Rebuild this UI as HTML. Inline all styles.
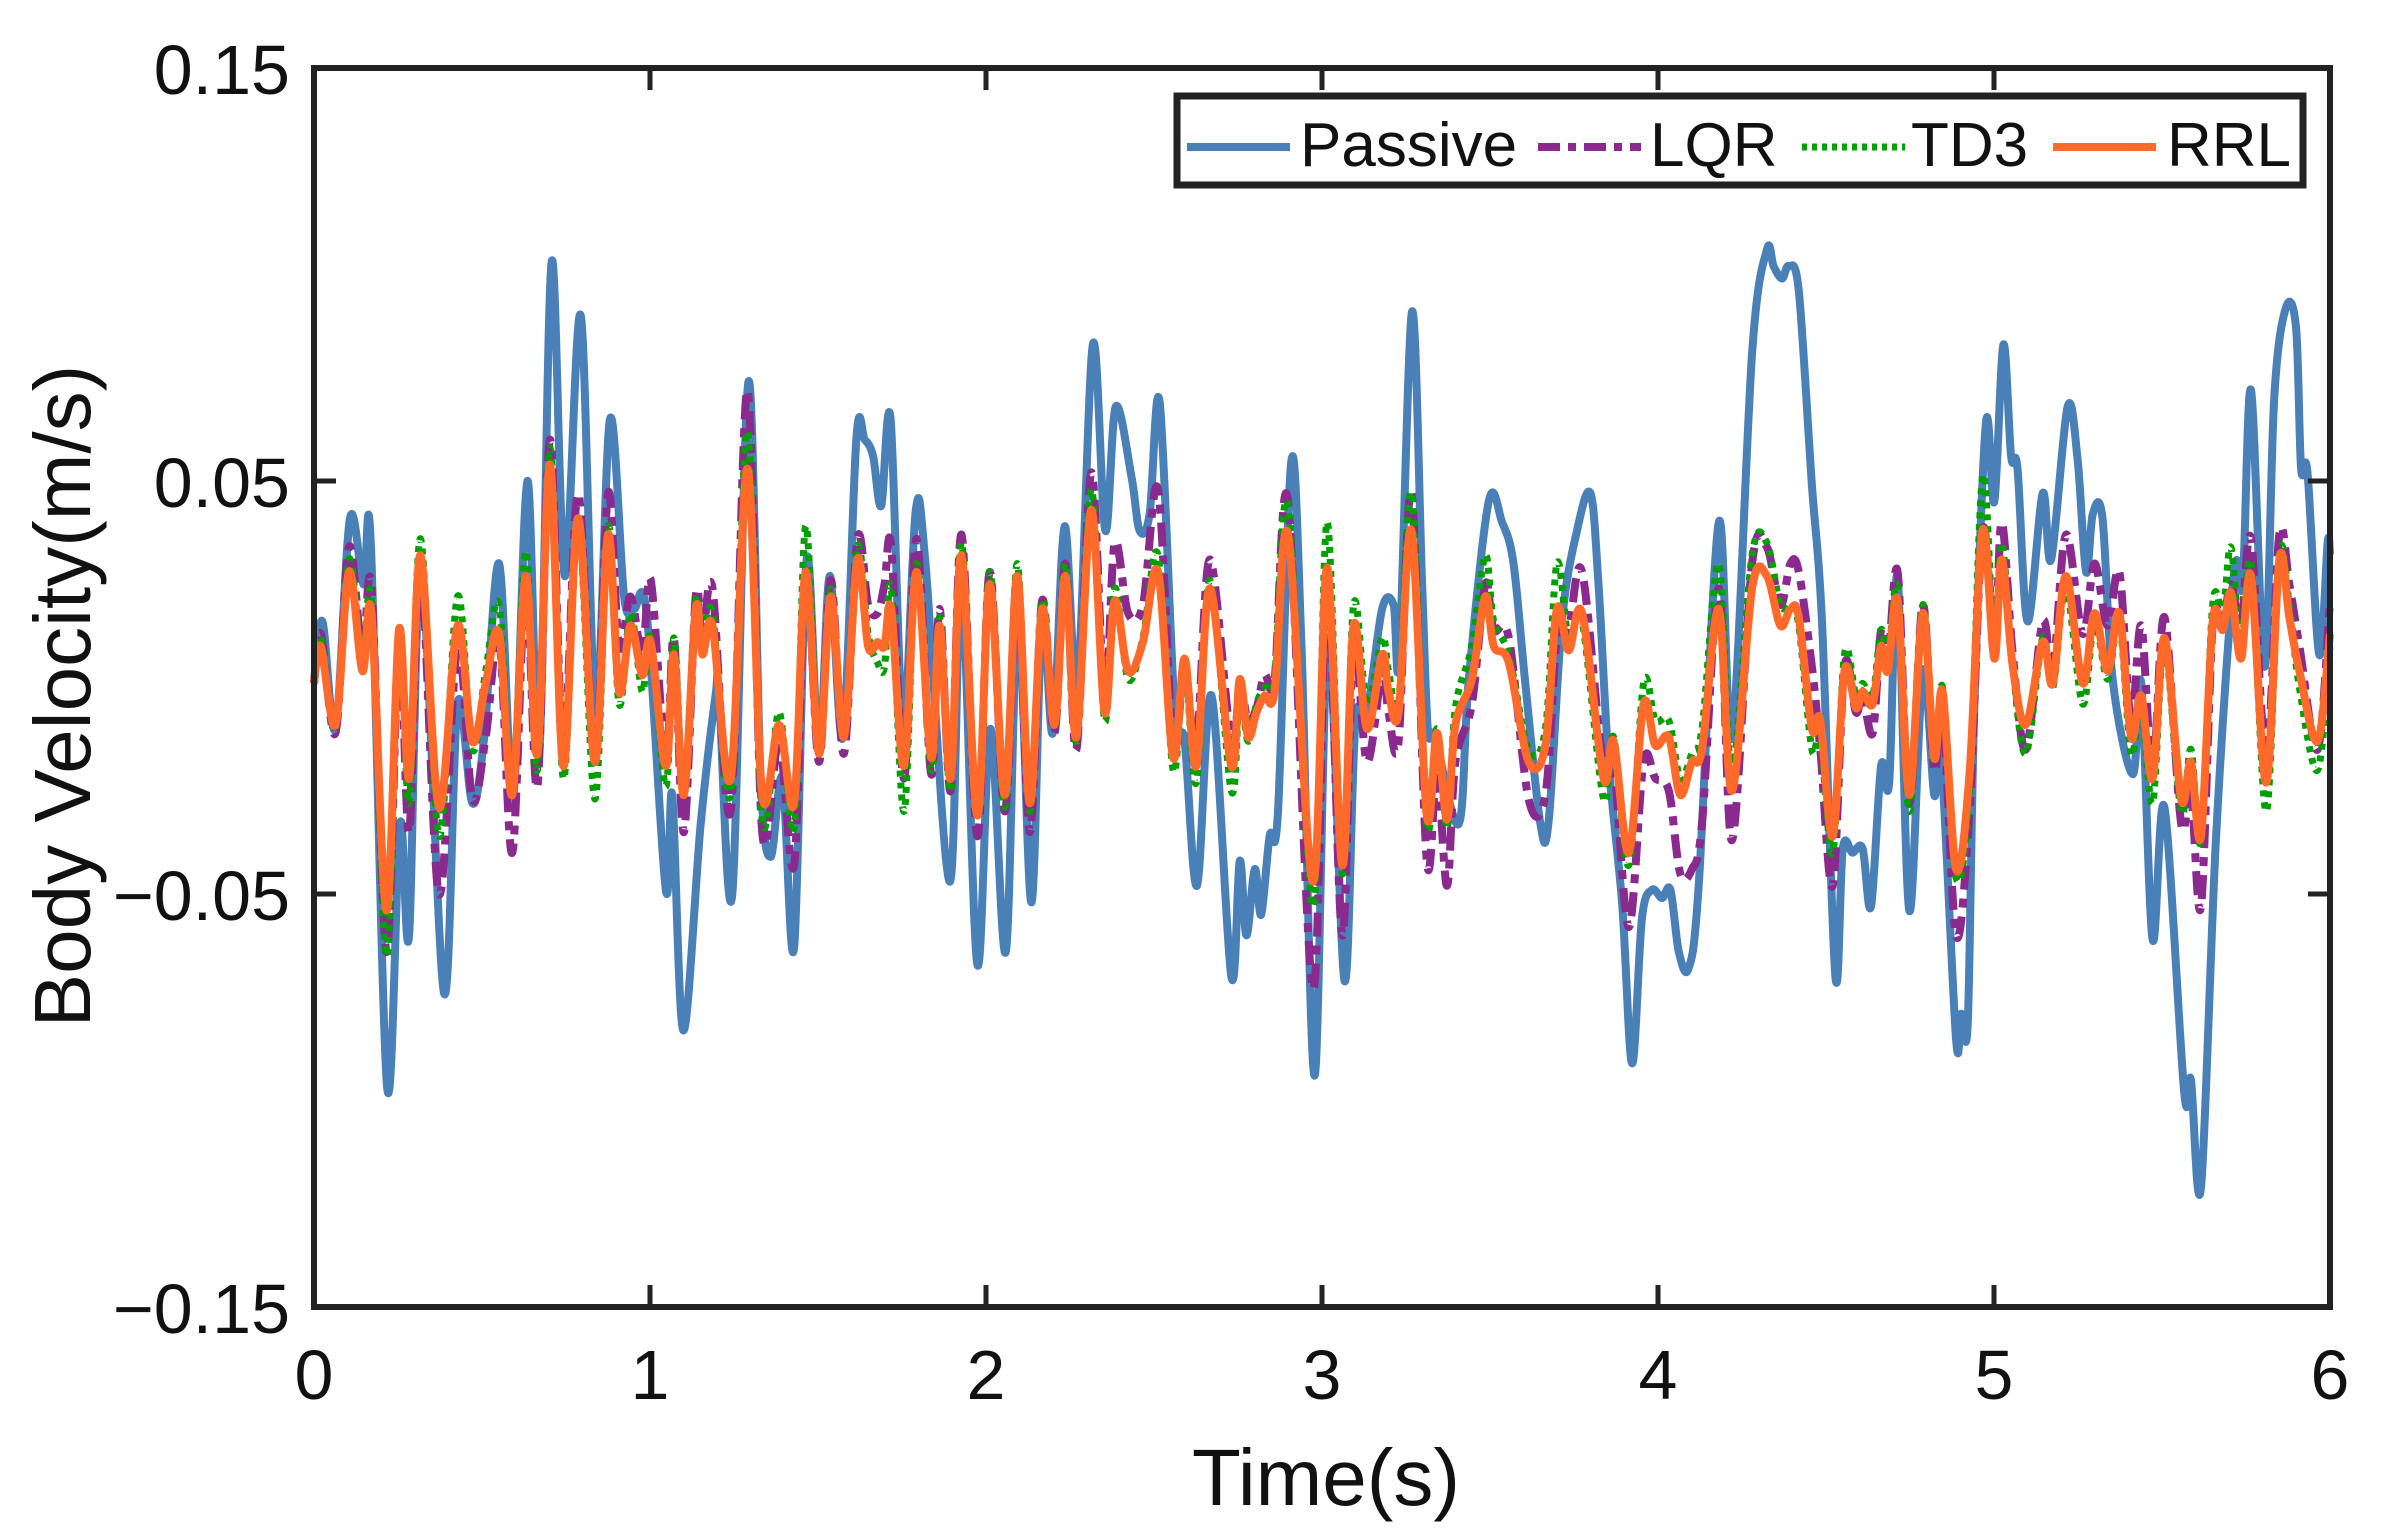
<!DOCTYPE html>
<html><head><meta charset="utf-8"><style>
html,body{margin:0;padding:0;background:#fff;}
svg{display:block;font-family:"Liberation Sans",Arial,sans-serif;}
</style></head><body>
<svg id="chart" width="2386" height="1531" viewBox="0 0 2386 1531" xmlns="http://www.w3.org/2000/svg">
<rect x="0" y="0" width="2386" height="1531" fill="#fff"/>
<g id="series"></g>
<g id="axes"></g>
<text x="1326" y="1505" font-size="80" text-anchor="middle" fill="#111">Time(s)</text>
<text x="0" y="0" font-size="80" text-anchor="middle" fill="#111" transform="translate(90,696) rotate(-90)">Body Velocity(m/s)</text>
<g>
<rect x="1177" y="96" width="1126" height="89" fill="#fff" stroke="#222" stroke-width="7"/>
<line x1="1187" y1="147" x2="1290" y2="147" stroke="#4a80b8" stroke-width="8"/>
<text x="1300" y="166" font-size="62" fill="#111">Passive</text>
<line x1="1538" y1="147" x2="1641" y2="147" stroke="#8b2a8e" stroke-width="8" stroke-dasharray="22,8,8,8"/>
<text x="1650" y="166" font-size="62" fill="#111">LQR</text>
<line x1="1802" y1="147" x2="1905" y2="147" stroke="#00a000" stroke-width="7" stroke-dasharray="5,5"/>
<text x="1911" y="166" font-size="62" fill="#111">TD3</text>
<line x1="2053" y1="147" x2="2156" y2="147" stroke="#ff6a2a" stroke-width="8"/>
<text x="2167" y="166" font-size="62" fill="#111">RRL</text>
</g>
</svg>
<script>
const xTicks=[0,1,2,3,4,5,6];
const xTickLabels=["0","1","2","3","4","5","6"];
const yTicks=[0.15,0.05,-0.05,-0.15];
const yTickLabels=["0.15","0.05","\u22120.05","\u22120.15"];
const tPassive=[0,.025,.064,.107,.147,.169,.218,.256,.283,.319,.387,.427,.471,.506,.551,.593,.635,.670,.707,.746,.794,.838,.881,.923,.952,.99,1.047,1.066,1.099,1.151,1.195,1.205,1.245,1.293,1.329,1.359,1.394,1.429,1.466,1.503,1.535,1.574,1.614,1.639,1.664,1.688,1.716,1.753,1.791,1.82,1.892,1.927,1.974,2.013,2.059,2.095,2.135,2.167,2.199,2.234,2.272,2.318,2.355,2.386,2.433,2.457,2.487,2.517,2.562,2.591,2.628,2.671,2.730,2.755,2.775,2.800,2.819,2.844,2.869,2.909,2.939,2.978,3.018,3.067,3.099,3.134,3.179,3.213,3.230,3.268,3.298,3.315,3.337,3.407,3.437,3.496,3.536,3.570,3.605,3.650,3.675,3.714,3.759,3.799,3.823,3.853,3.893,3.923,3.952,3.982,4.012,4.037,4.062,4.091,4.121,4.181,4.220,4.280,4.324,4.344,4.369,4.389,4.419,4.458,4.488,4.528,4.550,4.579,4.609,4.634,4.664,4.688,4.713,4.748,4.788,4.822,4.842,4.887,4.902,4.922,4.941,4.976,5.001,5.028,5.051,5.070,5.100,5.145,5.170,5.219,5.249,5.274,5.294,5.323,5.353,5.413,5.438,5.472,5.507,5.566,5.586,5.616,5.661,5.715,5.740,5.765,5.805,5.834,5.869,5.899,5.914,5.933,5.968,5.993,6.0];
const passive=[.001,.016,-.010,.041,.025,.035,-.097,-.033,-.060,.029,-.074,-.004,-.028,-.0125,.030,-.026,.050,-.016,.103,.027,.090,-.006,.065,.022,.019,.018,-.049,-.026,-.083,-.033,-.002,-.001,-.050,.074,-.021,-.041,-.022,-.063,.031,-.016,.027,-.012,.060,.060,.056,.044,.065,-.009,.043,.030,-.047,.025,-.067,-.010,-.064,.018,-.052,.018,-.011,.039,.001,.083,.038,.068,.051,.038,.042,.069,-.006,-.013,-.048,-.002,-.070,-.042,-.060,-.044,-.055,-.036,-.030,.055,.010,-.094,.012,-.071,-.009,-.006,.019,.020,.007,.091,.025,-.010,-.012,-.033,.002,.045,.040,.030,.001,-.033,-.032,.016,.038,.047,.025,-.018,-.052,-.091,-.056,-.049,-.051,-.049,-.064,-.068,-.048,.040,-.012,.081,.106,.102,.099,.102,.096,.049,.016,-.070,-.039,-.040,-.039,-.053,-.019,-.023,.027,-.054,.004,-.026,-.016,-.085,-.079,-.081,-.006,.064,.045,.083,.056,.053,.016,.047,.031,.068,.055,.028,.042,.041,.002,-.021,.001,-.061,-.029,-.098,-.095,-.121,-.036,.028,.025,.072,.005,.070,.092,.087,.053,.052,.008,.035,.032];
const tCtrl=[0,.020,.064,.104,.144,.171,.216,.253,.283,.317,.372,.427,.471,.511,.551,.590,.630,.665,.702,.742,.786,.836,.875,.908,.942,.977,1.002,1.047,1.071,1.101,1.136,1.156,1.186,1.240,1.290,1.334,1.384,1.429,1.463,1.503,1.538,1.577,1.617,1.649,1.677,1.698,1.718,1.756,1.793,1.837,1.862,1.895,1.927,1.974,2.011,2.056,2.093,2.130,2.167,2.204,2.236,2.269,2.313,2.353,2.383,2.423,2.467,2.512,2.557,2.591,2.626,2.666,2.730,2.755,2.780,2.805,2.829,2.859,2.899,2.973,3.015,3.060,3.094,3.134,3.179,3.198,3.228,3.266,3.312,3.342,3.372,3.397,3.446,3.486,3.511,3.556,3.615,3.665,3.699,3.734,3.774,3.838,3.868,3.913,3.957,3.992,4.032,4.066,4.101,4.131,4.181,4.220,4.280,4.324,4.364,4.394,4.419,4.458,4.483,4.520,4.555,4.589,4.609,4.639,4.664,4.684,4.713,4.748,4.788,4.822,4.847,4.887,4.927,4.966,5.001,5.023,5.056,5.095,5.145,5.175,5.214,5.264,5.299,5.338,5.373,5.408,5.438,5.472,5.507,5.557,5.586,5.616,5.651,5.681,5.705,5.735,5.765,5.810,5.849,5.879,5.909,5.963,6.000];
const rrl=[.001,.010,-.009,.028,.004,.018,-.054,.014,-.022,.032,-.029,.015,-.013,.001,.013,-.026,.027,-.016,.054,-.019,.041,-.018,.037,-.001,.015,.003,.011,-.019,.008,-.026,.019,.008,.015,-.022,.053,-.026,-.009,-.028,.028,-.016,.022,-.012,.031,.010,.011,.010,.019,-.019,.028,-.017,.015,-.022,.032,-.031,.025,-.026,.027,-.028,.019,-.009,.027,-.012,.043,-.006,.021,.004,.011,.028,-.017,.007,-.019,.024,-.019,.002,-.012,-.006,-.002,-.001,.037,-.047,.029,-.043,.015,-.010,.008,-.001,-.006,.038,-.031,-.011,-.032,-.009,.002,.022,.010,.006,-.018,-.014,.019,.009,.018,-.022,-.013,-.040,-.004,-.014,-.012,-.026,-.018,-.015,.019,-.025,.024,.027,.015,.019,.017,-.010,-.008,-.036,.004,-.005,-.001,-.004,.010,.004,.021,-.026,.018,-.017,-.001,-.044,-.021,.038,.007,.031,.005,-.009,.011,.001,.027,.001,.018,.004,.018,-.012,-.002,-.022,.012,-.027,-.018,-.036,.016,.014,.023,.007,.027,-.023,.031,.017,.004,-.013,.013];
const lqr=[.001,.013,-.011,.034,.008,.024,-.064,.012,-.035,.030,-.050,.010,-.027,-.012,.012,-.040,.025,-.024,.060,-.015,.047,-.018,.047,.010,.022,.008,.026,-.017,.012,-.035,.022,.012,.024,-.030,.072,-.035,-.013,-.043,.028,-.018,.026,-.016,.036,.020,.018,.025,.034,-.022,.036,-.021,.019,-.025,.037,-.036,.028,-.030,.027,-.035,.021,-.011,.030,-.015,.052,-.002,.035,.018,.020,.048,-.014,.005,-.014,.031,-.013,.000,-.008,-.005,.003,.002,.045,-.073,.025,-.060,.010,-.018,.004,-.006,-.013,.047,-.042,-.020,-.048,-.018,-.004,.025,.014,.012,-.027,-.026,.012,.014,.028,-.020,-.018,-.058,-.018,-.022,-.025,-.045,-.044,-.033,.024,-.037,.030,.034,.020,.030,.028,.005,-.015,-.048,.005,-.006,-.002,-.011,.014,.006,.028,-.028,.020,-.020,-.004,-.060,-.030,.038,.010,.040,.008,-.015,.016,.004,.037,.013,.030,.015,.028,-.008,.015,-.020,.017,-.033,-.025,-.053,.015,.015,.025,.015,.036,-.017,.037,.025,.010,-.015,.021];
const td3=[.001,.012,-.010,.031,.006,.021,-.065,.014,-.028,.036,-.036,.022,-.015,.004,.020,-.026,.033,-.020,.058,-.022,.040,-.027,.039,-.004,.018,-.001,.012,-.024,.012,-.025,.021,.010,.018,-.026,.062,-.032,-.006,-.034,.039,-.016,.024,-.012,.034,.013,.006,.005,.024,-.030,.030,-.020,.017,-.025,.035,-.032,.028,-.029,.030,-.030,.021,-.010,.030,-.013,.048,-.008,.024,.002,.012,.032,-.020,.005,-.023,.026,-.025,-.002,-.013,-.004,.000,.003,.044,-.053,.040,-.045,.020,-.004,.012,.004,-.004,.047,-.033,-.010,-.034,-.005,.010,.032,.016,.008,-.015,-.010,.030,.012,.016,-.027,-.012,-.043,.001,-.008,-.008,-.022,-.016,-.010,.030,-.020,.032,.035,.020,.020,.015,-.015,-.012,-.040,.008,-.002,.001,-.002,.014,.006,.024,-.030,.020,-.018,.000,-.046,-.025,.051,.010,.035,.005,-.016,.012,.000,.024,-.004,.016,.002,.016,-.016,-.004,-.028,.010,-.030,-.015,-.037,.020,.018,.034,.010,.030,-.030,.032,.020,.000,-.020,.010];

const X0=314,X1=2330,Y0=68,Y1=1307;
const xs=t=>X0+(t-0)/6*(X1-X0);
const ys=v=>Y1-(v+0.15)/0.3*(Y1-Y0);
const NS="http://www.w3.org/2000/svg";
function smoothPath(ts,vs){
  const p=ts.map((t,i)=>[xs(t),ys(vs[i])]);
  let d="M"+p[0][0].toFixed(1)+","+p[0][1].toFixed(1);
  for(let i=0;i<p.length-1;i++){
    const a=p[Math.max(0,i-1)],b=p[i],c=p[i+1],e=p[Math.min(p.length-1,i+2)];
    const c1x=b[0]+(c[0]-a[0])/6,c1y=b[1]+(c[1]-a[1])/6;
    const c2x=c[0]-(e[0]-b[0])/6,c2y=c[1]-(e[1]-b[1])/6;
    d+=" C"+c1x.toFixed(1)+","+c1y.toFixed(1)+" "+c2x.toFixed(1)+","+c2y.toFixed(1)+" "+c[0].toFixed(1)+","+c[1].toFixed(1);
  }
  return d;
}
const sg=document.getElementById("series");
function addLine(ts,vs,color,w,dash,name){
  const el=document.createElementNS(NS,"path");
  el.setAttribute("d",smoothPath(ts,vs));
  el.setAttribute("fill","none");
  el.setAttribute("stroke",color);
  el.setAttribute("stroke-width",w);
  el.setAttribute("stroke-linejoin","round");
  if(dash)el.setAttribute("stroke-dasharray",dash);
  
  
  sg.appendChild(el);
}
addLine(tPassive,passive,"#4a80b8",8,null,"passive-line");
addLine(tCtrl,lqr,"#8b2a8e",8,"24,9,9,9","lqr-line");
addLine(tCtrl,td3,"#00a000",7,"6,6","td3-line");
addLine(tCtrl,rrl,"#ff6a2a",8,null,"rrl-line");

const ag=document.getElementById("axes");
const frame=document.createElementNS(NS,"rect");
frame.setAttribute("x",X0);frame.setAttribute("y",Y0);
frame.setAttribute("width",X1-X0);frame.setAttribute("height",Y1-Y0);
frame.setAttribute("fill","none");frame.setAttribute("stroke","#222");frame.setAttribute("stroke-width","6");


ag.appendChild(frame);
function ln(x1,y1,x2,y2,name){
  const l=document.createElementNS(NS,"line");
  l.setAttribute("x1",x1);l.setAttribute("y1",y1);l.setAttribute("x2",x2);l.setAttribute("y2",y2);
  l.setAttribute("stroke","#222");l.setAttribute("stroke-width","5");
  
  
  ag.appendChild(l);
}
function tx(x,y,s,anchor,name){
  const t=document.createElementNS(NS,"text");
  t.setAttribute("x",x);t.setAttribute("y",y);t.setAttribute("font-size","70");
  t.setAttribute("text-anchor",anchor);t.setAttribute("fill","#111");
  t.textContent=s;
  
  
  ag.appendChild(t);
}
xTicks.forEach((v,i)=>{
  const x=xs(v);
  ln(x,Y1,x,Y1-22,"x-tick");
  ln(x,Y0,x,Y0+22,"x-tick-top");
  tx(x,1399,xTickLabels[i],"middle","x-tick-label");
});
yTicks.forEach((v,i)=>{
  const y=ys(v);
  ln(X0,y,X0+22,y,"y-tick");
  ln(X1,y,X1-22,y,"y-tick-right");
  tx(290,y+26,yTickLabels[i],"end","y-tick-label");
});
</script>
</body></html>
